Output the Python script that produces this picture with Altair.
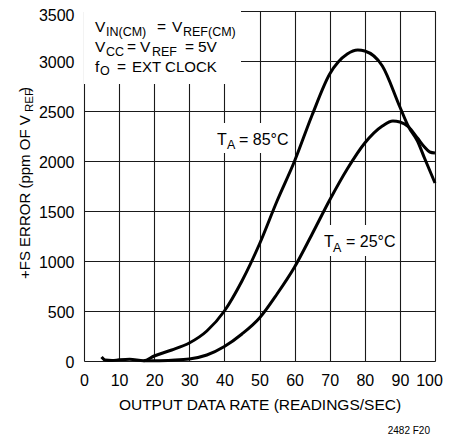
import altair as alt
import pandas as pd

# ---- data ----
rate_85 = [5, 6, 8, 10, 13, 17, 20, 25, 30, 35, 40, 45, 50, 55, 60, 65, 70, 75, 78, 80, 85, 90, 92.5, 95, 97, 100]
err_85 = [40, 10, 5, 12, 18, 2, 50, 110, 180, 300, 500, 800, 1170, 1600, 2000, 2460, 2870, 3070, 3110, 3100, 2950, 2540, 2340, 2200, 2030, 1780]

rate_25 = [17, 20, 25, 30, 35, 40, 45, 50, 55, 60, 65, 70, 75, 80, 85, 88, 90, 92.5, 95, 97, 98.5, 100]
err_25 = [2, 3, 8, 20, 60, 145, 270, 430, 670, 940, 1270, 1610, 1920, 2180, 2350, 2400, 2390, 2340, 2230, 2140, 2090, 2080]

x_ticks = [0, 10, 20, 30, 40, 50, 60, 70, 80, 90, 100]
y_ticks = [0, 500, 1000, 1500, 2000, 2500, 3000, 3500]

FONT = "'Liberation Sans Narrow', 'Liberation Sans', Arial, sans-serif"

curves = pd.concat([
    pd.DataFrame({"rate": rate_85, "err": err_85, "temp": "85"}),
    pd.DataFrame({"rate": rate_25, "err": err_25, "temp": "25"}),
])

W, H = 351, 350

xs = alt.Scale(domain=[0, 100], nice=False)
ys = alt.Scale(domain=[0, 3500], nice=False)

lines = alt.Chart(curves).mark_line(color="black", strokeWidth=3, interpolate="monotone").encode(
    x=alt.X("rate:Q", scale=xs,
            axis=alt.Axis(values=x_ticks, format="d", title="OUTPUT DATA RATE (READINGS/SEC)",
                          grid=True, gridColor="#1a1a1a", gridWidth=1.1, gridOpacity=1,
                          ticks=False, domain=False, labelFont=FONT, labelFontSize=16,
                          labelColor="black", labelPadding=11, titleFont=FONT,
                          titleFontSize=15.5, titleFontWeight="normal", titleColor="black",
                          titlePadding=9, labelFlush=False,
                          labelOffset={"condition": {"test": "datum.value == 100", "value": -6}, "value": 0})),
    y=alt.Y("err:Q", scale=ys,
            axis=alt.Axis(values=y_ticks, format="d", title=None, grid=True, gridColor="#1a1a1a",
                          gridWidth=1.1, gridOpacity=1, ticks=False, domain=False,
                          labelFont=FONT, labelFontSize=16, labelColor="black",
                          labelPadding=10, labelFlush=False,
                          labelOffset={"condition": {"test": "datum.value == 3500", "value": 4}, "value": 1})),
    detail="temp:N",
)

# white boxes behind annotations (plot-area pixel coords)
boxes = pd.DataFrame({
    "x1": [0, 128, 236], "x2": [157, 209, 315],
    "y1": [0, 112, 214], "y2": [73, 142, 245],
})
rects = alt.Chart(boxes).mark_rect(color="white").encode(
    x=alt.X("x1:Q", scale=None), x2="x2:Q",
    y=alt.Y("y1:Q", scale=None), y2="y2:Q",
)

# annotation text pieces (page pixel coords, baseline)
OX, OY = 84, 11
pieces = [
    (95, 32.3, "V", 15.5), (106, 35.5, "IN(CM)", 12.5), (157, 32.3, "=", 15.5),
    (172, 32.3, "V", 15.5), (183, 35.5, "REF(CM)", 12.5),
    (95, 52.3, "V", 15.5), (106, 55.5, "CC", 12.5), (127, 52.3, "=", 15.5),
    (140, 52.3, "V", 15.5), (152, 55.5, "REF", 12.5), (185, 52.3, "=", 15.5),
    (198, 52.3, "5V", 15.5),
    (95, 71.7, "f", 15.5), (100, 74.9, "O", 12.5), (117, 71.7, "=", 15.5),
    (132, 71.7, "EXT CLOCK", 15),
    (217, 145, "T", 16), (227, 149, "A", 12.5), (239, 145, "= 85°C", 16),
    (324, 247.3, "T", 16), (333, 251.5, "A", 12.5), (346, 247.3, "= 25°C", 16),
]
ann = pd.DataFrame({
    "px": [p[0] - OX for p in pieces],
    "py": [p[1] - OY for p in pieces],
    "txt": [p[2] for p in pieces],
    "sz": [p[3] for p in pieces],
})
texts = alt.Chart(ann).mark_text(align="left", baseline="alphabetic", font=FONT, color="black").encode(
    x=alt.X("px:Q", scale=None), y=alt.Y("py:Q", scale=None),
    text="txt:N", size=alt.Size("sz:Q", scale=None),
)

# rotated y-axis title with subscript
yt = [
    (30, 279, "+FS ERROR (ppm OF V", 15),
    (33, 112, "REF", 11.5),
    (30, 92, ")", 15),
]
ytdf = pd.DataFrame({
    "px": [p[0] - OX for p in yt],
    "py": [p[1] - OY for p in yt],
    "txt": [p[2] for p in yt],
    "sz": [p[3] for p in yt],
})
ytitle = alt.Chart(ytdf).mark_text(align="left", baseline="alphabetic", angle=270, font=FONT, color="black").encode(
    x=alt.X("px:Q", scale=None), y=alt.Y("py:Q", scale=None),
    text="txt:N", size=alt.Size("sz:Q", scale=None),
)

foot = alt.Chart(pd.DataFrame({"px": [430 - OX], "py": [434 - OY], "txt": ["2482 F20"]})).mark_text(
    align="right", baseline="alphabetic", font=FONT, fontSize=10, color="black").encode(
    x=alt.X("px:Q", scale=None), y=alt.Y("py:Q", scale=None), text="txt:N")

chart = alt.layer(rects, lines, texts, ytitle, foot).properties(
    width=W, height=H,
    autosize=alt.AutoSizeParams(type="none"),
    padding={"left": 76, "top": 3, "right": 9, "bottom": 74},
).configure_view(stroke="black", strokeWidth=1.5).configure(background="white")

chart.save("out.html", embed_options={"renderer": "svg", "actions": False})
